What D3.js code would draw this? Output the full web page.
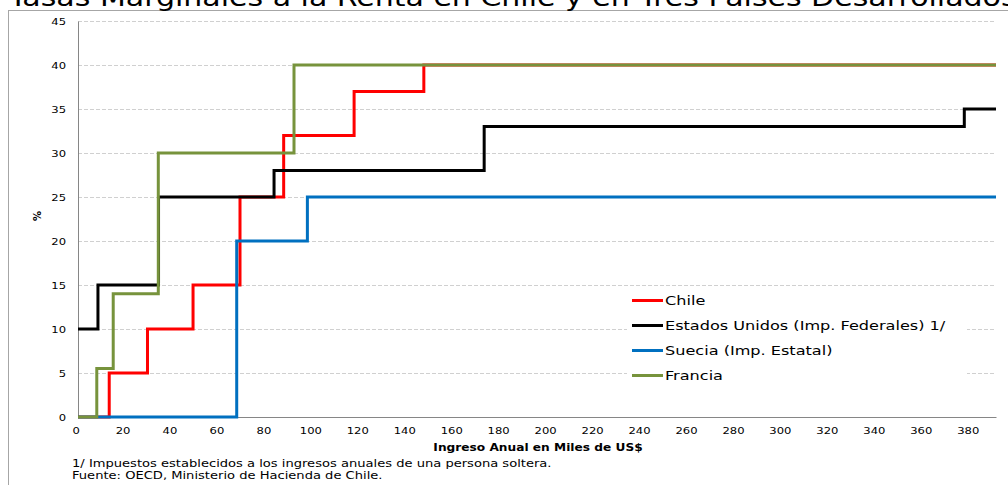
<!DOCTYPE html>
<html>
<head>
<meta charset="utf-8">
<script src="https://cdn.jsdelivr.net/npm/d3@7/dist/d3.min.js"></script>
<style>
  html, body { margin: 0; padding: 0; background: #fff; }
  svg { display: block; font-family: "DejaVu Sans", Verdana, sans-serif; }
</style>
</head>
<body>
<svg id="chart" width="1008" height="485"></svg>
<script>
// Marginal income-tax rates by annual income (thousands of US$)
const incomeMax = 391;

const chileIncome  = [0, 13.3, 29.6, 49.0, 69.0, 87.6, 117.6, 147.3];
const chileRate    = [0, 5, 10, 15, 25, 32, 37, 40];

const usaIncome    = [0, 8.5, 34.3, 83.5, 173.0, 377.5];
const usaRate      = [10, 15, 25, 28, 33, 35];

const swedenIncome = [0, 67.6, 97.7];
const swedenRate   = [0, 20, 25];

const franceIncome = [0, 8.0, 15.0, 34.2, 92.0];
const franceRate   = [0, 5.5, 14, 30, 40];

const seriesNames  = ["Chile", "Estados Unidos (Imp. Federales) 1/", "Suecia (Imp. Estatal)", "Francia"];
const seriesColors = ["#ff0000", "#000000", "#0070c0", "#77933c"];

const yTicks = [0, 5, 10, 15, 20, 25, 30, 35, 40, 45];
const xTicks = d3.range(0, 381, 20);

const titleText = "Tasas Marginales a la Renta en Chile y en Tres Países Desarrollados";
const xTitle = "Ingreso Anual en Miles de US$";
const yTitle = "%";
const notes = [
  "1/ Impuestos establecidos a los ingresos anuales de una persona soltera.",
  "Fuente: OECD, Ministerio de Hacienda de Chile."
];

const svg = d3.select("#chart");
const plot = { left: 78, right: 996, top: 21, bottom: 417 };
const sx = 1.22; // horizontal stretch of the lettering

const x = d3.scaleLinear().domain([0, incomeMax]).range([plot.left, plot.right]);
const y = d3.scaleLinear().domain([0, 45]).range([plot.bottom, plot.top]);

// chart frame
svg.append("rect")
  .attr("x", 8.5).attr("y", 10.5)
  .attr("width", 1020).attr("height", 500)
  .attr("fill", "none").attr("stroke", "#a6a6a6").attr("stroke-width", 1);

// title (runs past the top edge of the frame)
svg.append("text")
  .attr("transform", `translate(9,6) scale(1.25,1)`)
  .attr("font-size", 24)
  .attr("fill", "#000")
  .text(titleText);

// dashed horizontal gridlines
const grid = svg.append("g")
  .attr("transform", `translate(${plot.left},0)`)
  .call(d3.axisLeft(y).tickValues(yTicks.filter(v => v > 0))
    .tickSize(-(plot.right - plot.left)).tickFormat(""));
grid.select(".domain").remove();
grid.selectAll(".tick line")
  .attr("stroke", "#d0d0d0").attr("stroke-dasharray", "4,2");

// y axis
const yAxis = svg.append("g")
  .attr("transform", `translate(${plot.left},0)`)
  .call(d3.axisLeft(y).tickValues(yTicks).tickSize(0).tickPadding(9.8).tickFormat(d3.format("d")));
yAxis.select(".domain").attr("stroke", "#868686");
yAxis.selectAll(".tick text")
  .attr("font-size", 9.5).attr("fill", "#000")
  .attr("font-family", "DejaVu Sans, Verdana, sans-serif")
  .attr("transform", `scale(${sx},1)`);

// x axis
const xAxis = svg.append("g")
  .attr("transform", `translate(0,${plot.bottom})`)
  .call(d3.axisBottom(x).tickValues(xTicks).tickSize(0).tickPadding(9.8).tickFormat(d3.format("d")));
xAxis.select(".domain").attr("stroke", "#868686");
xAxis.selectAll(".tick text")
  .attr("font-size", 9.5).attr("fill", "#000")
  .attr("font-family", "DejaVu Sans, Verdana, sans-serif")
  .attr("x", -2)
  .attr("transform", `scale(${sx},1)`);

// axis titles
svg.append("text")
  .attr("transform", `translate(538,451) scale(${sx},1)`)
  .attr("text-anchor", "middle")
  .attr("font-size", 10).attr("font-weight", "bold")
  .text(xTitle);

svg.append("text")
  .attr("transform", `translate(41,216) rotate(-90)`)
  .attr("text-anchor", "middle")
  .attr("font-size", 10).attr("font-weight", "bold")
  .text(yTitle);

// step lines
const stepLine = d3.line()
  .x(d => x(d[0])).y(d => y(d[1]))
  .curve(d3.curveStepAfter);

const series = [
  [chileIncome, chileRate],
  [usaIncome, usaRate],
  [swedenIncome, swedenRate],
  [franceIncome, franceRate]
].map(([inc, rate], i) => {
  const pts = inc.map((v, j) => [v, rate[j]]);
  pts.push([incomeMax, rate[rate.length - 1]]);
  return { name: seriesNames[i], color: seriesColors[i], pts };
});

svg.append("g").selectAll("path")
  .data(series).join("path")
  .attr("d", d => stepLine(d.pts))
  .attr("fill", "none")
  .attr("stroke", d => d.color)
  .attr("stroke-width", 3)
  .attr("stroke-linejoin", "miter");

// legend
const legend = svg.append("g");
legend.append("rect")
  .attr("x", 627).attr("y", 289).attr("width", 340).attr("height", 99)
  .attr("fill", "#fff");
const item = legend.selectAll("g.item")
  .data(series).join("g")
  .attr("class", "item")
  .attr("transform", (d, i) => `translate(632,${300.5 + i * 25})`);
item.append("line")
  .attr("x1", 0).attr("x2", 31).attr("y1", 0).attr("y2", 0)
  .attr("stroke", d => d.color).attr("stroke-width", 3);
item.append("text")
  .attr("transform", `translate(33,4.6) scale(1.24,1)`)
  .attr("font-size", 13).attr("fill", "#000")
  .text(d => d.name);

// footnotes
svg.selectAll("text.note")
  .data(notes).join("text")
  .attr("class", "note")
  .attr("transform", (d, i) => `translate(72,${466.5 + i * 12.6}) scale(1.27,1)`)
  .attr("font-size", 10.3).attr("fill", "#000")
  .text(d => d);
</script>
</body>
</html>
